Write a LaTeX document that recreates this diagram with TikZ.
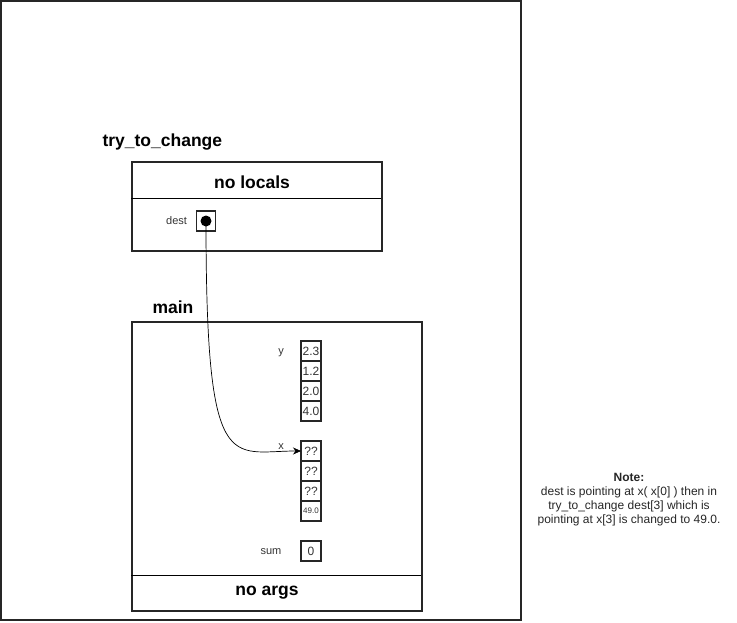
\documentclass[tikz,border=0pt]{standalone}
\usepackage{fontspec}
\setmainfont{Liberation Sans}
\usetikzlibrary{arrows.meta,positioning}

\begin{document}
\begin{tikzpicture}[
  x=1pt,y=-1pt,
  frame/.style={draw=black!85,line width=1.8pt},
  title/.style={font=\fontsize{17.5}{21}\selectfont\bfseries},
  lbl/.style={font=\fontsize{11}{13}\selectfont,text=black!80},
  cell/.style={draw=black!85,line width=1.5pt,minimum width=20pt,minimum height=20pt,inner sep=0pt,outer sep=0pt,font=\fontsize{12}{14}\selectfont,text=black!80},
  arr/.style={-{Stealth[length=8pt,width=7pt]},line width=0.7pt}
]
\useasboundingbox (0,0) rectangle (737,622);
\draw[frame] (1,1) rectangle (521,620);

% try_to_change
\node[title,anchor=west] (tryname) at (99,142) {try\_to\_change};
\node[frame,anchor=north west,minimum width=250pt,minimum height=89pt,inner sep=0pt] (trybox) at (131,161) {};
\draw[line width=0.8pt] (131,198) -- (381,198);
\node[title] (nolocals) at (252,182) {no locals};
\node[cell,minimum width=19pt] (dest) at (206,221) {};
\fill (dest.center) circle (5.5pt);
\node[lbl,left=6pt of dest] (destlbl) {dest};

% main
\node[title,anchor=west] (mainname) at (149,307) {main};
\node[frame,anchor=north west,minimum width=290pt,minimum height=289pt,inner sep=0pt] (mainbox) at (131,321) {};
\draw[line width=0.8pt] (131,575) -- (421,575);
\node[title] (noargs) at (267,593) {no args};

\node[cell] (y0) at (311,351) {2.3};
\node[cell,below=0pt of y0] (y1) {1.2};
\node[cell,below=0pt of y1] (y2) {2.0};
\node[cell,below=0pt of y2] (y3) {4.0};
\node[lbl] (ylbl) at (281,353) {y};

\node[cell] (x0) at (311,451) {??};
\node[cell,below=0pt of x0] (x1) {??};
\node[cell,below=0pt of x1] (x2) {??};
\node[cell,below=0pt of x2,font=\fontsize{8}{10}\selectfont] (x3) {49.0};
\node[lbl] (xlbl) at (281,447) {x};

\node[cell] (sum) at (311,551) {0};
\node[lbl] (sumlbl) at (271,552) {sum};

\draw[arr] (dest.center) .. controls (206,480) and (230,451) .. (x0.west);

% note
\node[align=center,font=\fontsize{12}{14}\selectfont,text=black!85] (note) at (629,500)
  {\textbf{Note:}\\dest is pointing at x( x[0] ) then in\\try\_to\_change dest[3] which is\\pointing at x[3] is changed to 49.0.};
\end{tikzpicture}
\end{document}
